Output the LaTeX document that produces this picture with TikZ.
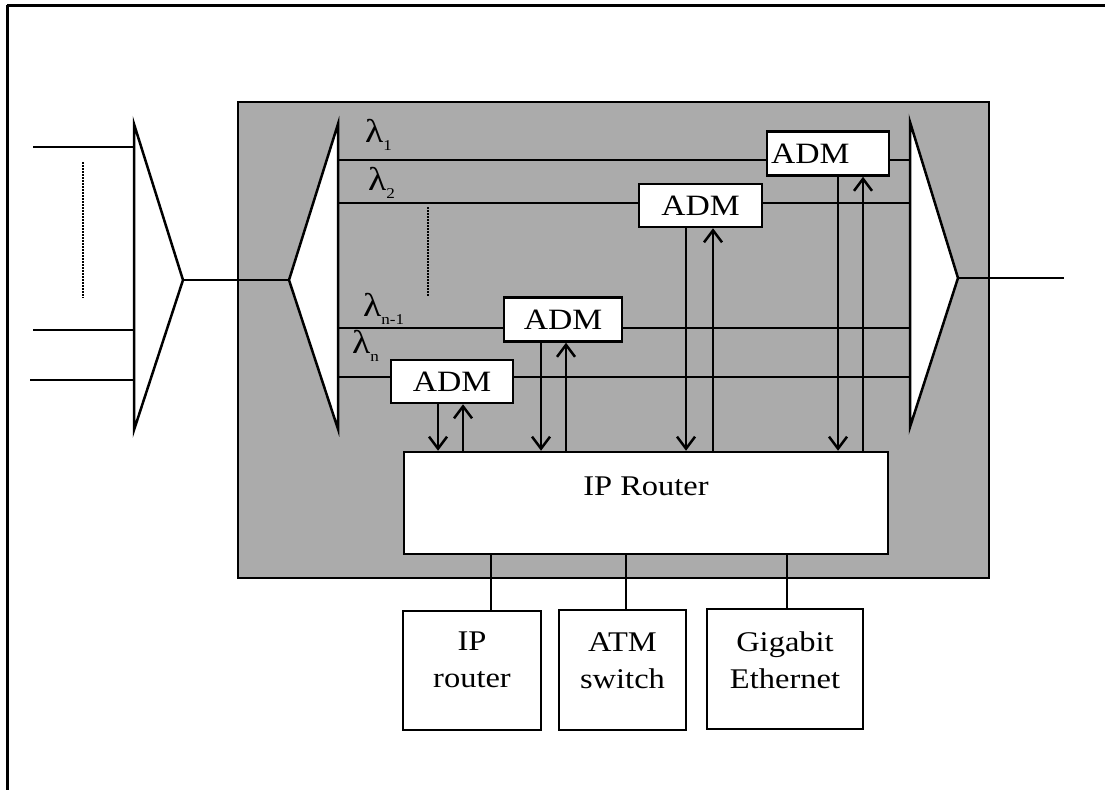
\documentclass[tikz,border=0pt]{standalone}
\usepackage{fontspec}
\setmainfont{Liberation Serif}[FakeStretch=1.14]
\usetikzlibrary{arrows.meta}
% wavelength label: lambda with a lowered index
\newcommand\lamlabel[1]{{\fontsize{33}{33}\selectfont λ}{\fontsize{15}{15}\selectfont\raisebox{-8pt}{#1}}}

\begin{document}
\begin{tikzpicture}[x=1pt,y=-1pt,
  wire/.style={line width=2.5pt},
  frameline/.style={line width=3pt},
  dots/.style={line width=2.2pt,dash pattern=on 1.5pt off 1.5pt},
  admbox/.style={draw,line width=2.5pt,fill=white,minimum width=122pt,minimum height=44pt,
    inner sep=0pt,font=\fontsize{29.5}{29.5}\selectfont},
  devbox/.style={draw,line width=2.5pt,fill=white,minimum height=119pt,inner sep=0pt},
  devtext/.style={anchor=north,inner sep=0pt,align=center,font=\fontsize{28.5}{37}\selectfont},
  sig/.style={line width=2.5pt,-{Straight Barb[length=12pt,width=18pt,line width=2.5pt]}},
  mux/.style={line width=2.5pt,fill=white,line join=miter},
]
\useasboundingbox (0,0) rectangle (1105,790);

% outer frame (top and left edges)
\draw[frameline] (7,5) -- (1105,5);
\draw[frameline] (7,5) -- (7,790);

% node housing
\draw[line width=2.5pt,fill=black!33] (238,102) rectangle (989,578);

% external demultiplexer and its inputs
\coordinate (dmtop) at (134,124);
\coordinate (dmtip) at (183,280);
\coordinate (dmbot) at (134,430);
\filldraw[mux] (dmtop) -- (dmtip) -- (dmbot) -- cycle;
\coordinate (in1) at (33,147);
\coordinate (in2) at (33,330);
\coordinate (in3) at (30,380);
\draw[wire] (in1) -- (in1 -| dmtop);
\draw[wire] (in2) -- (in2 -| dmtop);
\draw[wire] (in3) -- (in3 -| dmtop);
\draw[dots] (83,162) -- (83,298);

% internal demultiplexer
\coordinate (ddtop) at (338,124);
\coordinate (ddtip) at (289,280);
\coordinate (ddbot) at (338,429);
\filldraw[mux] (ddtop) -- (ddtip) -- (ddbot) -- cycle;
\draw[wire] (dmtip) -- (ddtip);

% output multiplexer
\coordinate (omtop) at (910,122);
\coordinate (omtip) at (958,278);
\coordinate (ombot) at (910,427);
\filldraw[mux] (omtop) -- (omtip) -- (ombot) -- cycle;
\coordinate (out) at (1064,278);
\draw[wire] (omtip) -- (out);

% wavelength channels
\foreach \y/\n in {160/w1,203/w2,328/w3,377/w4}{
  \coordinate (\n a) at (338,\y);
  \coordinate (\n b) at (910,\y);
  \draw[wire] (\n a) -- (\n b);
}
\draw[dots] (428,207) -- (428,297);

\node[anchor=base west,inner sep=0pt] (lab1) at (365,142) {\lamlabel{1}};
\node[anchor=base west,inner sep=0pt] (lab2) at (368,190) {\lamlabel{2}};
\node[anchor=base west,inner sep=0pt] (lab3) at (363,316) {\lamlabel{n-1}};
\node[anchor=base west,inner sep=0pt] (lab4) at (352,353) {\lamlabel{n}};

% add/drop multiplexers
\node[admbox,text width=114pt,align=left,inner xsep=4pt] (adm1) at (828,153.5) {ADM};
\node[admbox,minimum width=123pt,minimum height=43pt] (adm2) at (700.5,205.5) {ADM};
\node[admbox,minimum width=118pt] (adm3) at (563,319.5) {ADM};
\node[admbox,minimum height=43pt] (adm4) at (452,381.5) {ADM};

% router
\node[draw,line width=2.5pt,fill=white,minimum width=484pt,minimum height=102pt,inner sep=0pt]
  (router) at (646,503) {};
\node[anchor=north,inner sep=0pt,font=\fontsize{28.5}{28.5}\selectfont] (routertxt) at (646,477) {IP Router};

% drop (down) and add (up) links between ADMs and the router
\foreach \a/\dn/\up in {adm4/-14/11, adm3/-22/3, adm2/-14.5/12.5, adm1/10/35}{
  \coordinate (\a d) at ([xshift=\dn pt]\a.south);
  \coordinate (\a u) at ([xshift=\up pt]\a.south);
  \draw[sig] (\a d) -- (\a d |- router.north);
  \draw[sig] (\a u |- router.north) -- (\a u);
}

% client equipment
\node[devbox,minimum width=138pt] (ipr) at (472,670.5) {};
\node[devbox,minimum width=127pt,minimum height=120pt] (atm) at (622.5,670) {};
\node[devbox,minimum width=156pt,minimum height=120pt] (gbe) at (785,669) {};
\node[devtext] (iprtxt) at (472,632) {IP\\router};
\node[devtext] (atmtxt) at (622.5,632) {ATM\\switch};
\node[devtext] (gbetxt) at (785,632) {Gigabit\\Ethernet};

\coordinate (c1) at ([xshift=19pt]ipr.north);
\coordinate (c2) at ([xshift=3.5pt]atm.north);
\coordinate (c3) at ([xshift=2pt]gbe.north);
\draw[wire] (c1 |- router.south) -- (c1);
\draw[wire] (c2 |- router.south) -- (c2);
\draw[wire] (c3 |- router.south) -- (c3);
\end{tikzpicture}
\end{document}
